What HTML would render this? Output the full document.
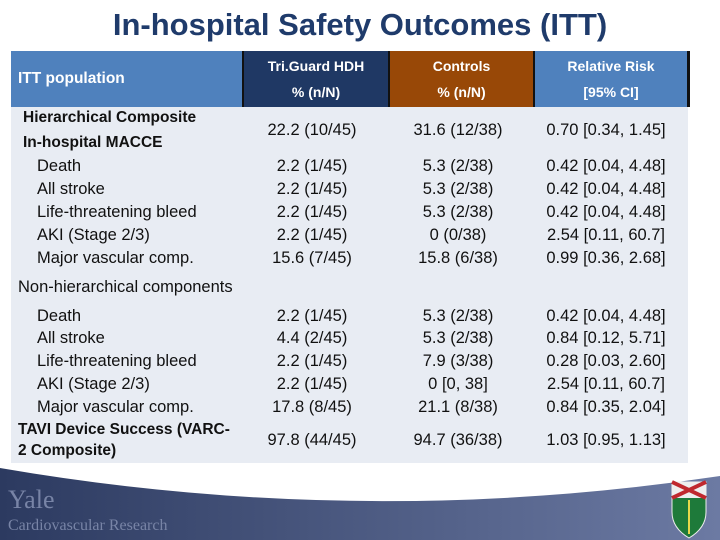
<!DOCTYPE html>
<html><head><meta charset="utf-8"><style>
body{margin:0;width:720px;height:540px;position:relative;background:#fff;font-family:"Liberation Sans",sans-serif;overflow:hidden}
.t{position:absolute;white-space:nowrap;font-size:16.5px;color:#111;line-height:18px}
.b{font-weight:bold;font-size:15.5px}
.c{text-align:center;transform:translateX(-50%)}
.h{position:absolute;top:51px;height:56px;color:#fff;font-weight:bold;font-size:14px}
</style></head><body>
<div style="position:absolute;left:0;width:720px;top:7px;text-align:center;font-size:31px;font-weight:bold;color:#1f3b6b">In-hospital Safety Outcomes (ITT)</div>
<div style="position:absolute;left:11px;top:107px;width:677px;height:356px;background:#e8ecf3"></div>
<div class="h" style="left:11px;width:231px;background:#4f81bd"><div style="position:absolute;left:7px;top:19px;font-size:15.5px">ITT population</div></div>
<div class="h" style="left:242px;width:146px;background:#1f3864;border-left:2px solid #111;box-sizing:border-box;text-align:center;line-height:26px;padding-top:2px">Tri.Guard HDH<br>% (n/N)</div>
<div class="h" style="left:388px;width:145px;background:#984807;border-left:2px solid #111;box-sizing:border-box;text-align:center;line-height:26px;padding-top:2px">Controls<br>% (n/N)</div>
<div class="h" style="left:533px;width:157px;background:#4f81bd;border-left:2px solid #111;border-right:3px solid #111;box-sizing:border-box;text-align:center;line-height:26px;padding-top:2px">Relative Risk<br>[95% CI]</div>
<div id="rows"></div>
<svg style="position:absolute;left:0;top:460px" width="720" height="80">
<defs><linearGradient id="g" x1="0" x2="1"><stop offset="0" stop-color="#2c3a60"/><stop offset="1" stop-color="#6c7aa3"/></linearGradient></defs>
<path d="M0 8 Q360 70 720 16 L720 80 L0 80 Z" fill="url(#g)"/>
<text x="8" y="48" font-family="Liberation Serif" font-size="26" fill="#7884a6">Yale</text>
<text x="8" y="70" font-family="Liberation Serif" font-size="16" fill="#7884a6">Cardiovascular Research</text>
<path d="M672 22 h34 v30 q0 16 -17 26 q-17 -10 -17 -26z" fill="#1e7a3a" stroke="#eee"/>
<path d="M672 22 h34 v16 h-34z" fill="#eee"/>
<path d="M672 22 L706 38 M706 22 L672 38" stroke="#c0282e" stroke-width="4"/>
<path d="M689 40 v34" stroke="#e8d84a" stroke-width="2"/>
</svg>
<script>
const rows=[
["Hierarchical Composite",23,118,1],["In-hospital MACCE",23,143,1],
["Death",37,166],["All stroke",37,189],["Life-threatening bleed",37,212],["AKI (Stage 2/3)",37,235],["Major vascular comp.",37,258],
["Non-hierarchical components",18,287],
["Death",37,316],["All stroke",37,338],["Life-threatening bleed",37,361],["AKI (Stage 2/3)",37,384],["Major vascular comp.",37,407],
["TAVI Device Success (VARC-",18,430,1],["2 Composite)",18,451,1]];
const ys=[130,166,189,212,235,258,316,338,361,384,407,440];
const col1=["22.2 (10/45)","2.2 (1/45)","2.2 (1/45)","2.2 (1/45)","2.2 (1/45)","15.6 (7/45)","2.2 (1/45)","4.4 (2/45)","2.2 (1/45)","2.2 (1/45)","17.8 (8/45)","97.8 (44/45)"];
const col2=["31.6 (12/38)","5.3 (2/38)","5.3 (2/38)","5.3 (2/38)","0 (0/38)","15.8 (6/38)","5.3 (2/38)","5.3 (2/38)","7.9 (3/38)","0 [0, 38]","21.1 (8/38)","94.7 (36/38)"];
const col3=["0.70 [0.34, 1.45]","0.42 [0.04, 4.48]","0.42 [0.04, 4.48]","0.42 [0.04, 4.48]","2.54 [0.11, 60.7]","0.99 [0.36, 2.68]","0.42 [0.04, 4.48]","0.84 [0.12, 5.71]","0.28 [0.03, 2.60]","2.54 [0.11, 60.7]","0.84 [0.35, 2.04]","1.03 [0.95, 1.13]"];
const R=document.getElementById('rows');
rows.forEach(r=>{const d=document.createElement('div');d.className='t'+(r[3]?' b':'');


d.style.left=r[1]+'px';d.style.top=(r[2]-9)+'px';d.textContent=r[0];R.appendChild(d);});
[[col1,312],[col2,458],[col3,606]].forEach(([c,x])=>c.forEach((v,i)=>{const d=document.createElement('div');d.className='t c';


d.style.left=x+'px';d.style.top=(ys[i]-9)+'px';d.textContent=v;R.appendChild(d);}));
</script>
</body></html>
